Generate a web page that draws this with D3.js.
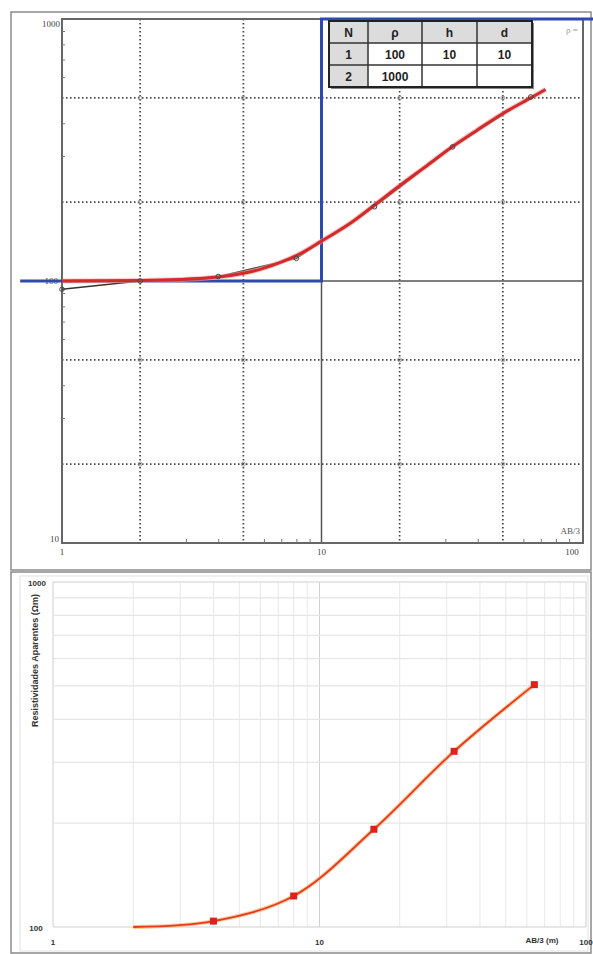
<!DOCTYPE html>
<html>
<head>
<meta charset="utf-8">
<script src="https://cdn.jsdelivr.net/npm/d3@7"></script>
<style>
  body { margin: 0; background: #fff; }
  svg { display: block; }
</style>
</head>
<body>
<div id="chart-area"></div>
<script>
// observed sounding (AB/3 in m, apparent resistivity in ohm.m)
var obsAB  = [1, 2, 4, 8, 16, 32, 64];
var obsRho = [93, 100, 104, 122, 192, 325, 504];

// fitted (theoretical) curve
var fitAB  = [1, 2, 3, 4, 5, 6, 8, 10, 13, 16, 20, 25, 32, 40, 50, 64, 73];
var fitRho = [100, 100.5, 101.5, 103.5, 107, 112, 125, 142, 167, 195, 231, 272, 326, 378, 436, 500, 538];

// layered model (blue step)
var modelAB  = [0.69, 10, 10, 112];
var modelRho = [100, 100, 1000, 1000];

// model table
var tableHead = ["N", "\u03c1", "h", "d"];
var tableRows = [["1", "100", "10", "10"], ["2", "1000", "", ""]];

// lower chart series (Excel style)
var lowAB  = [2, 4, 8, 16, 32, 64];
var lowRho = [100, 104, 123, 192, 323, 504];
var lowMarkAB  = [4, 8, 16, 32, 64];
var lowMarkRho = [104, 123, 192, 323, 504];

var xMajor = [1, 10, 100];
var gridDot = [2, 5, 20, 50];
var xMinor = [3, 4, 6, 7, 8, 9, 30, 40, 60, 70, 80, 90];
var yMinor = [30, 40, 60, 70, 80, 90, 300, 400, 600, 700, 800, 900];

var svg = d3.select("#chart-area").append("svg")
    .attr("width", 593)
    .attr("height", 954);

// ---------- frames ----------
svg.append("rect").attr("x", 11).attr("y", 12).attr("width", 580).attr("height", 558)
    .attr("fill", "none").attr("stroke", "#8a8a8a").attr("stroke-width", 1.5);
svg.append("rect").attr("x", 11).attr("y", 572).attr("width", 580).attr("height", 381)
    .attr("fill", "none").attr("stroke", "#8a8a8a").attr("stroke-width", 1.5);
svg.append("rect").attr("x", 20).attr("y", 576).attr("width", 568).attr("height", 375)
    .attr("fill", "none").attr("stroke", "#e2e2e2").attr("stroke-width", 1);

// ================= TOP CHART =================
var xTop = d3.scaleLog().domain([1, 100]).range([62, 581]);
var yTop = d3.scaleLog().domain([10, 1000]).range([543, 19]);

var gTop = svg.append("g");

// dotted grid
gTop.selectAll(".vdot").data(gridDot).enter().append("line")
    .attr("x1", function (d) { return xTop(d); }).attr("x2", function (d) { return xTop(d); })
    .attr("y1", 19).attr("y2", 543)
    .attr("stroke", "#444").attr("stroke-width", 1.7).attr("stroke-dasharray", "1.5,2.5");
gTop.selectAll(".hdot").data(gridDot.map(function (d) { return d * 10; })).enter().append("line")
    .attr("y1", function (d) { return yTop(d); }).attr("y2", function (d) { return yTop(d); })
    .attr("x1", 62).attr("x2", 583)
    .attr("stroke", "#444").attr("stroke-width", 1.7).attr("stroke-dasharray", "1.5,2.5");

// little circles at dotted crossings
var cross = [];
gridDot.forEach(function (a) { gridDot.forEach(function (b) { cross.push([a, b * 10]); }); });
gTop.selectAll(".cross").data(cross).enter().append("circle")
    .attr("cx", function (d) { return xTop(d[0]); })
    .attr("cy", function (d) { return yTop(d[1]); })
    .attr("r", 2).attr("fill", "none").attr("stroke", "#888").attr("stroke-width", 0.8);

// solid decade lines
gTop.append("line").attr("x1", xTop(10)).attr("x2", xTop(10)).attr("y1", 19).attr("y2", 543)
    .attr("stroke", "#555").attr("stroke-width", 1.5);
gTop.append("line").attr("x1", 62).attr("x2", 583).attr("y1", yTop(100)).attr("y2", yTop(100))
    .attr("stroke", "#555").attr("stroke-width", 1.5);

// border
gTop.append("rect").attr("x", 62).attr("y", 19).attr("width", 521).attr("height", 524)
    .attr("fill", "none").attr("stroke", "#666").attr("stroke-width", 2);

// minor ticks (inward)
gTop.append("g").attr("transform", "translate(0,543)")
    .call(d3.axisBottom(xTop).tickValues(xMinor).tickSize(-4).tickFormat(""))
    .call(function (g) { g.select(".domain").remove(); g.selectAll("line").attr("stroke", "#777"); });
gTop.append("g").attr("transform", "translate(62,0)")
    .call(d3.axisLeft(yTop).tickValues(yMinor).tickSize(-3).tickFormat(""))
    .call(function (g) { g.select(".domain").remove(); g.selectAll("line").attr("stroke", "#777"); });

// labels
var lblFont = "'Liberation Serif', serif";
gTop.append("text").attr("x", 60).attr("y", yTop(1000) + 8).attr("text-anchor", "end")
    .attr("font-family", lblFont).attr("font-size", 9).attr("fill", "#444").text("1000");
gTop.append("text").attr("x", 58).attr("y", yTop(100) + 3).attr("text-anchor", "end")
    .attr("font-family", lblFont).attr("font-size", 9).attr("fill", "#444").text("100");
gTop.append("text").attr("x", 59).attr("y", yTop(10) - 1).attr("text-anchor", "end")
    .attr("font-family", lblFont).attr("font-size", 9).attr("fill", "#444").text("10");
gTop.selectAll(".xl").data(xMajor).enter().append("text")
    .attr("x", function (d) { return d === 100 ? xTop(d) - 9 : xTop(d); })
    .attr("y", 555).attr("text-anchor", "middle")
    .attr("font-family", lblFont).attr("font-size", 9).attr("fill", "#444")
    .text(function (d) { return d; });
gTop.append("text").attr("x", 580).attr("y", 534).attr("text-anchor", "end")
    .attr("font-family", lblFont).attr("font-size", 9).attr("fill", "#555").text("AB/3");
gTop.append("text").attr("x", 566).attr("y", 33)
    .attr("font-family", lblFont).attr("font-size", 9).attr("fill", "#999").text("\u03c1 =");

// blue layered model
var modelLine = d3.line()
    .x(function (d) { return xTop(d[0]); })
    .y(function (d) { return yTop(d[1]); });
gTop.append("path")
    .datum(modelAB.map(function (d, i) { return [d, modelRho[i]]; }))
    .attr("d", modelLine).attr("fill", "none")
    .attr("stroke", "#2f49b0").attr("stroke-width", 3);

// observed line
var obsPts = obsAB.map(function (d, i) { return [d, obsRho[i]]; });
gTop.append("path").datum(obsPts).attr("d", modelLine)
    .attr("fill", "none").attr("stroke", "#333").attr("stroke-width", 1.3);

// fitted red curve
var fitLine = d3.line()
    .x(function (d) { return xTop(d[0]); })
    .y(function (d) { return yTop(d[1]); })
    .curve(d3.curveCatmullRom.alpha(0.5));
var fitPts = fitAB.map(function (d, i) { return [d, fitRho[i]]; });
gTop.append("path").datum(fitPts).attr("d", fitLine)
    .attr("fill", "none").attr("stroke", "#f2a0a0").attr("stroke-width", 5).attr("opacity", 0.6);
gTop.append("path").datum(fitPts).attr("d", fitLine)
    .attr("fill", "none").attr("stroke", "#d42a2a").attr("stroke-width", 3);

// observed markers
gTop.selectAll(".obs").data(obsPts).enter().append("circle")
    .attr("cx", function (d) { return xTop(d[0]); })
    .attr("cy", function (d) { return yTop(d[1]); })
    .attr("r", 2.3).attr("fill", "none").attr("stroke", "#444").attr("stroke-width", 1);

// table
var tx = 329, ty = 21, colW = [39, 54, 55, 55], rowH = 22;
var colX = [tx];
colW.forEach(function (w, i) { colX.push(colX[i] + w); });
var tbl = gTop.append("g");
tbl.append("rect").attr("x", tx + 2).attr("y", ty + 2).attr("width", 203).attr("height", 66)
    .attr("fill", "#888");
tbl.append("rect").attr("x", tx).attr("y", ty).attr("width", 203).attr("height", 66)
    .attr("fill", "#fff");
// header and N column shading
tbl.append("rect").attr("x", tx).attr("y", ty).attr("width", 203).attr("height", rowH).attr("fill", "#dcdcdc");
tbl.append("rect").attr("x", tx).attr("y", ty).attr("width", colW[0]).attr("height", 66).attr("fill", "#dcdcdc");
[1, 2].forEach(function (r) {
    tbl.append("line").attr("x1", tx).attr("x2", tx + 203)
        .attr("y1", ty + r * rowH).attr("y2", ty + r * rowH)
        .attr("stroke", "#333").attr("stroke-width", 1.5);
});
[1, 2, 3].forEach(function (c) {
    tbl.append("line").attr("x1", colX[c]).attr("x2", colX[c])
        .attr("y1", ty).attr("y2", ty + 66)
        .attr("stroke", "#333").attr("stroke-width", 1.5);
});
tbl.append("rect").attr("x", tx).attr("y", ty).attr("width", 203).attr("height", 66)
    .attr("fill", "none").attr("stroke", "#222").attr("stroke-width", 2);
var allRows = [tableHead].concat(tableRows);
allRows.forEach(function (row, r) {
    row.forEach(function (v, c) {
        tbl.append("text")
            .attr("x", (colX[c] + colX[c + 1]) / 2)
            .attr("y", ty + r * rowH + 15.5)
            .attr("text-anchor", "middle")
            .attr("font-family", "'Liberation Sans', Arial, sans-serif")
            .attr("font-weight", "bold").attr("font-size", 12).attr("fill", "#222")
            .text(v);
    });
});

// ================= LOWER CHART =================
var xLow = d3.scaleLog().domain([1, 100]).range([53, 586]);
var yLow = d3.scaleLog().domain([100, 1000]).range([927, 582]);

var gLow = svg.append("g");
var xGrid = [];
[1, 10].forEach(function (m) { for (var k = 1; k <= 10; k++) xGrid.push(k * m); });
var yGrid = [];
for (var k = 1; k <= 10; k++) yGrid.push(k * 100);

gLow.selectAll(".vg").data(xGrid).enter().append("line")
    .attr("x1", function (d) { return xLow(d); }).attr("x2", function (d) { return xLow(d); })
    .attr("y1", 582).attr("y2", 927)
    .attr("stroke", function (d) { return (d === 1 || d === 10 || d === 100) ? "#d0d0d0" : "#e8e8e8"; })
    .attr("stroke-width", 1);
gLow.selectAll(".hg").data(yGrid).enter().append("line")
    .attr("y1", function (d) { return yLow(d); }).attr("y2", function (d) { return yLow(d); })
    .attr("x1", 53).attr("x2", 586)
    .attr("stroke", function (d) { return (d === 100 || d === 1000) ? "#d0d0d0" : "#e6e6e6"; })
    .attr("stroke-width", 1.2);

var lowFont = "'Liberation Sans', Arial, sans-serif";
gLow.append("text").attr("x", 37).attr("y", 586).attr("text-anchor", "middle")
    .attr("font-family", lowFont).attr("font-weight", "bold").attr("font-size", 8).attr("fill", "#333").text("1000");
gLow.append("text").attr("x", 36).attr("y", 931).attr("text-anchor", "middle")
    .attr("font-family", lowFont).attr("font-weight", "bold").attr("font-size", 8).attr("fill", "#333").text("100");
gLow.selectAll(".xl").data(xMajor).enter().append("text")
    .attr("x", function (d) { return xLow(d); })
    .attr("y", 945).attr("text-anchor", "middle")
    .attr("font-family", lowFont).attr("font-weight", "bold").attr("font-size", 8).attr("fill", "#333")
    .text(function (d) { return d; });
gLow.append("text").attr("x", 542).attr("y", 943).attr("text-anchor", "middle")
    .attr("font-family", lowFont).attr("font-weight", "bold").attr("font-size", 8).attr("fill", "#333")
    .text("AB/3 (m)");
gLow.append("text")
    .attr("transform", "translate(38,594) rotate(-90)")
    .attr("text-anchor", "end")
    .attr("font-family", lowFont).attr("font-weight", "bold").attr("font-size", 9).attr("fill", "#333")
    .text("Resistividades Aparentes (\u03a9m)");

var lowLine = d3.line()
    .x(function (d) { return xLow(d[0]); })
    .y(function (d) { return yLow(d[1]); })
    .curve(d3.curveCatmullRom.alpha(0.5));
var lowPts = lowAB.map(function (d, i) { return [d, lowRho[i]]; });
gLow.append("path").datum(lowPts).attr("d", lowLine)
    .attr("fill", "none").attr("stroke", "#f6b26b").attr("stroke-width", 4).attr("opacity", 0.7);
gLow.append("path").datum(lowPts).attr("d", lowLine)
    .attr("fill", "none").attr("stroke", "#e63a22").attr("stroke-width", 1.8);
gLow.selectAll(".mk").data(lowMarkAB.map(function (d, i) { return [d, lowMarkRho[i]]; }))
    .enter().append("rect")
    .attr("x", function (d) { return xLow(d[0]) - 3.5; })
    .attr("y", function (d) { return yLow(d[1]) - 3.5; })
    .attr("width", 7).attr("height", 7)
    .attr("fill", "#e0201c");
</script>
</body>
</html>
